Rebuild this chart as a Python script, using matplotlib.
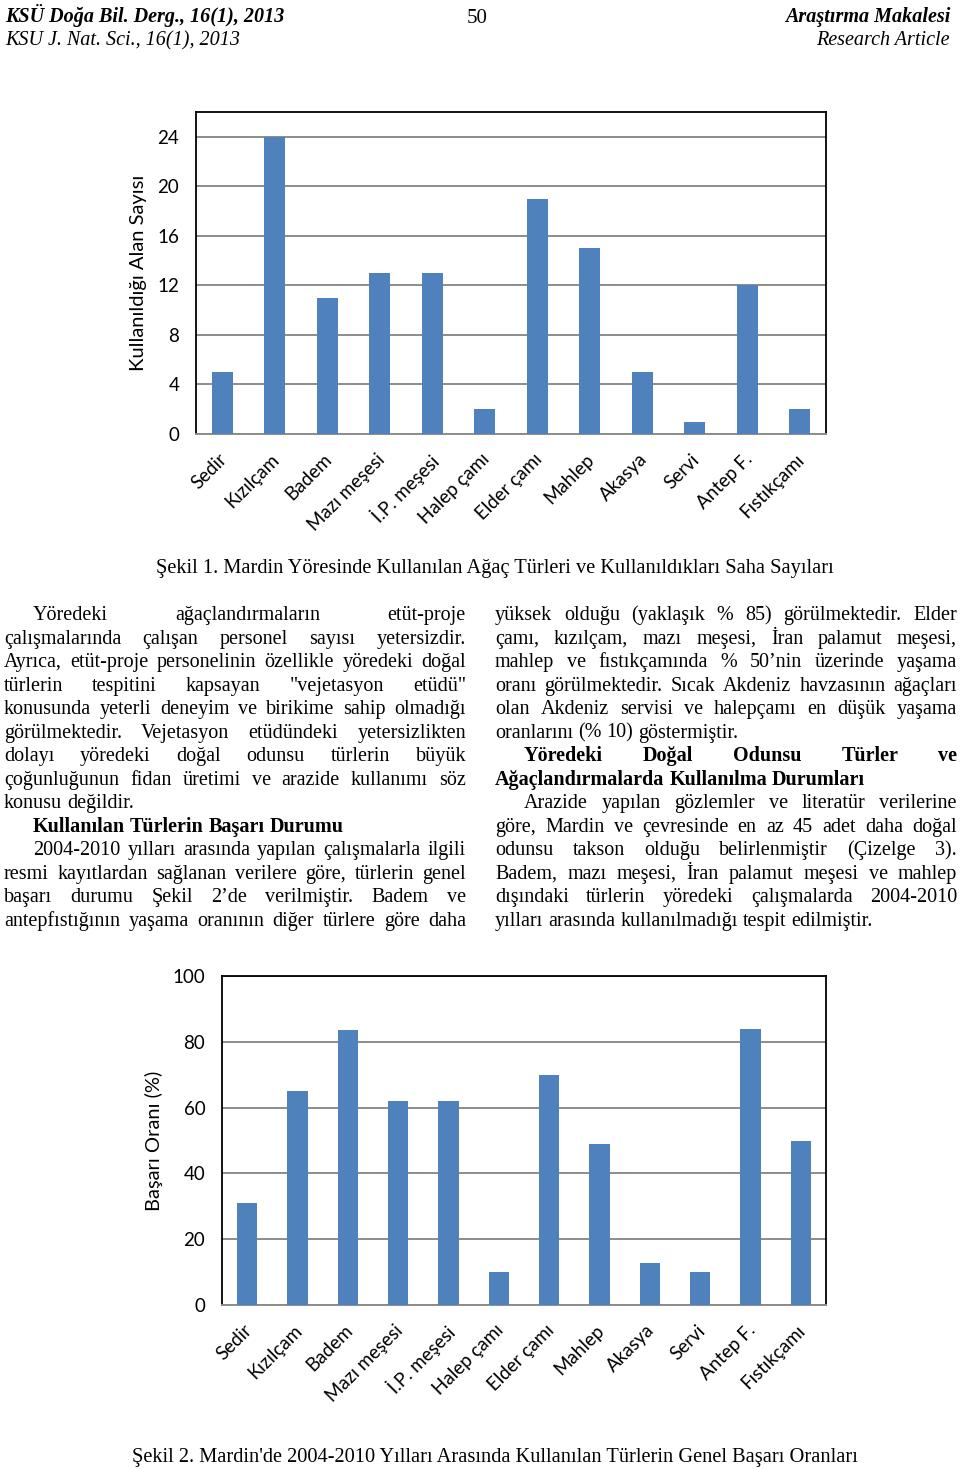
import matplotlib
matplotlib.use("Agg")
import matplotlib.pyplot as plt
from matplotlib.font_manager import FontProperties
from matplotlib.transforms import ScaledTranslation

# ---------------- data ----------------
species = ["Sedir", "Kızılçam", "Badem", "Mazı meşesi", "İ.P. meşesi", "Halep çamı",
           "Elder çamı", "Mahlep", "Akasya", "Servi", "Antep F.", "Fıstıkçamı"]
area_counts = [5, 24, 11, 13, 13, 2, 19, 15, 5, 1, 12, 2]
success_rates = [31, 65, 83.5, 62, 62, 10, 70, 49, 12.7, 10, 84, 50]
yticks1 = [0, 4, 8, 12, 16, 20, 24]
yticks2 = [0, 20, 40, 60, 80, 100]

header_left = ["KSÜ Doğa Bil. Derg., 16(1), 2013", "KSU J. Nat. Sci., 16(1), 2013"]
header_right = ["Araştırma Makalesi", "Research Article"]
page_no = "50"
caption1 = "Şekil 1. Mardin Yöresinde Kullanılan Ağaç Türleri ve Kullanıldıkları Saha Sayıları"
caption2 = "Şekil 2. Mardin'de 2004-2010 Yılları Arasında Kullanılan Türlerin Genel Başarı Oranları"

# each line: (text, style, indent, justify)
left_col = [
    ("Yöredeki ağaçlandırmaların etüt-proje", "n", True, True),
    ("çalışmalarında çalışan personel sayısı yetersizdir.", "n", False, True),
    ("Ayrıca, etüt-proje personelinin özellikle yöredeki doğal", "n", False, True),
    ("türlerin tespitini kapsayan \"vejetasyon etüdü\"", "n", False, True),
    ("konusunda yeterli deneyim ve birikime sahip olmadığı", "n", False, True),
    ("görülmektedir. Vejetasyon etüdündeki yetersizlikten", "n", False, True),
    ("dolayı yöredeki doğal odunsu türlerin büyük", "n", False, True),
    ("çoğunluğunun fidan üretimi ve arazide kullanımı söz", "n", False, True),
    ("konusu değildir.", "n", False, False),
    ("Kullanılan Türlerin Başarı Durumu", "b", True, False),
    ("2004-2010 yılları arasında yapılan çalışmalarla ilgili", "n", True, True),
    ("resmi kayıtlardan sağlanan verilere göre, türlerin genel", "n", False, True),
    ("başarı durumu Şekil 2’de verilmiştir. Badem ve", "n", False, True),
    ("antepfıstığının yaşama oranının diğer türlere göre daha", "n", False, True),
]
right_col = [
    ("yüksek olduğu (yaklaşık % 85) görülmektedir. Elder", "n", False, True),
    ("çamı, kızılçam, mazı meşesi, İran palamut meşesi,", "n", False, True),
    ("mahlep ve fıstıkçamında % 50’nin üzerinde yaşama", "n", False, True),
    ("oranı görülmektedir. Sıcak Akdeniz havzasının ağaçları", "n", False, True),
    ("olan Akdeniz servisi ve halepçamı en düşük yaşama", "n", False, True),
    ("oranlarını (% 10) göstermiştir.", "n", False, False),
    ("Yöredeki Doğal Odunsu Türler ve", "b", True, True),
    ("Ağaçlandırmalarda Kullanılma Durumları", "b", False, False),
    ("Arazide yapılan gözlemler ve literatür verilerine", "n", True, True),
    ("göre, Mardin ve çevresinde en az 45 adet daha doğal", "n", False, True),
    ("odunsu takson olduğu belirlenmiştir (Çizelge 3).", "n", False, True),
    ("Badem, mazı meşesi, İran palamut meşesi ve mahlep", "n", False, True),
    ("dışındaki türlerin yöredeki çalışmalarda 2004-2010", "n", False, True),
    ("yılları arasında kullanılmadığı tespit edilmiştir.", "n", False, False),
]

# ---------------- figure ----------------
W, H = 960, 1469
fig = plt.figure(figsize=(W / 100, H / 100), dpi=100)
fig.patch.set_facecolor("white")

BAR = "#4F81BD"
GRID = "#8C8C8C"
CHART_FONT = "Lato"
SERIF = "Liberation Serif"


def px_axes(l, t, r, b):
    return fig.add_axes([l / W, 1 - b / H, (r - l) / W, (b - t) / H])


def bar_chart(ax, values, yticks, ymax, ylabel, ylabel_x):
    x = list(range(len(species)))
    ax.bar(x, values, width=0.4, color=BAR, zorder=3)
    ax.set_xlim(-0.5, len(species) - 0.5)
    ax.set_ylim(0, ymax)
    ax.set_yticks(yticks)
    ax.set_yticklabels([str(v) for v in yticks], fontfamily=CHART_FONT, fontsize=13.5)
    ax.yaxis.grid(True, color=GRID, linewidth=1.4, zorder=0)
    ax.set_axisbelow(True)
    ax.tick_params(axis="y", length=0, pad=12)
    ax.tick_params(axis="x", length=0, pad=12)
    ax.set_xticks(x)
    ax.set_xticklabels(species, rotation=45, ha="right", va="top",
                       rotation_mode="anchor", fontfamily=CHART_FONT, fontsize=13.5)
    off = ScaledTranslation(-4 / 100, 0, fig.dpi_scale_trans)
    for lab in ax.get_xticklabels():
        lab.set_transform(lab.get_transform() + off)
    for s in ["top", "right", "left"]:
        ax.spines[s].set_color("black")
        ax.spines[s].set_linewidth(1.3)
    ax.spines["bottom"].set_color(GRID)
    ax.spines["bottom"].set_linewidth(1.4)
    ax.set_ylabel(ylabel, fontfamily=CHART_FONT, fontsize=14.5)
    ax.yaxis.set_label_coords(ylabel_x, 0.5)


ax1 = px_axes(196, 112, 826, 434)
bar_chart(ax1, area_counts, yticks1, 26, "Kullanıldığı Alan Sayısı", -0.077)

ax2 = px_axes(222, 976, 826, 1305)
bar_chart(ax2, success_rates, yticks2, 100, "Başarı Oranı (%)", -0.098)

# ---------------- page text overlay ----------------
ov = fig.add_axes([0, 0, 1, 1], zorder=10)
ov.set_xlim(0, W)
ov.set_ylim(H, 0)
ov.axis("off")
ov.patch.set_alpha(0)

hb = FontProperties(family=SERIF, style="italic", weight="bold", size=14.5)
hi = FontProperties(family=SERIF, style="italic", size=14.5)
ov.text(5, 22, header_left[0], fontproperties=hb, va="baseline", ha="left")
ov.text(5, 45, header_left[1], fontproperties=hi, va="baseline", ha="left")
ov.text(950, 22, header_right[0], fontproperties=hb, va="baseline", ha="right")
ov.text(950, 45, header_right[1], fontproperties=hi, va="baseline", ha="right")
ov.text(477, 23, page_no, fontproperties=FontProperties(family=SERIF, size=15),
        va="baseline", ha="center")

cap = FontProperties(family=SERIF, size=14.7)
ov.text(495, 573, caption1, fontproperties=cap, va="baseline", ha="center")
ov.text(495, 1462, caption2, fontproperties=cap, va="baseline", ha="center")

fig.canvas.draw()
renderer = fig.canvas.get_renderer()

body_n = FontProperties(family=SERIF, size=14.5)
body_b = FontProperties(family=SERIF, size=14.5, weight="bold")


def width_of(s, fp):
    t = ov.text(0, 0, s, fontproperties=fp)
    w = t.get_window_extent(renderer).width
    t.remove()
    return w


def set_lines(lines, x0, x1, y0, dy, indent):
    for i, (txt, st, ind, just) in enumerate(lines):
        fp = body_b if st == "b" else body_n
        y = y0 + i * dy
        xs = x0 + (indent if ind else 0)
        words = txt.split(" ")
        widths = [width_of(w, fp) for w in words]
        if just and len(words) > 1:
            gap = (x1 - xs - sum(widths)) / (len(words) - 1)
        else:
            gap = width_of("a a", fp) - width_of("aa", fp)
        x = xs
        for w, wd in zip(words, widths):
            ov.text(x, y, w, fontproperties=fp, va="baseline", ha="left")
            x += wd + gap


set_lines(left_col, 4, 466, 620, 23.5, 29)
set_lines(right_col, 495, 957, 620, 23.5, 29)

fig.savefig("out.png", dpi=100, facecolor="white")
